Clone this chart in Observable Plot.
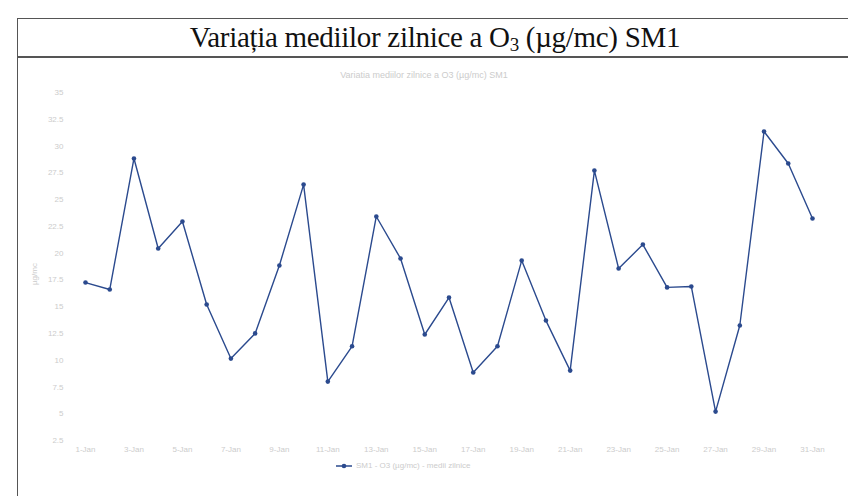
<!DOCTYPE html>
<html>
<head>
<meta charset="utf-8">
<script src="https://cdn.jsdelivr.net/npm/d3@7"></script>
<script src="https://cdn.jsdelivr.net/npm/@observablehq/plot@0.6"></script>
<style>
  html, body { margin: 0; padding: 0; background: #fff; }
  #wrap { position: relative; width: 848px; height: 496px; overflow: hidden; }
  #frame { position: absolute; left: 17px; top: 18px; width: 840px; height: 490px;
           border-left: 1.5px solid #555; border-top: 1.5px solid #555; box-sizing: border-box; }
  #title { position: absolute; left: 17px; top: 18px; width: 836px; height: 40px;
           border-bottom: 2px solid #555; box-sizing: border-box;
           font-family: "Liberation Serif", "DejaVu Serif", serif; font-size: 29px; color: #111;
           text-align: center; line-height: 38px; letter-spacing: -0.3px; }
  #title sub { font-size: 19px; vertical-align: -4px; line-height: 0; }
  #subtitle { position: absolute; left: 0; width: 848px; top: 70px; text-align: center;
              font-family: "Liberation Sans", Arial, sans-serif; font-size: 9px; color: #ccc; }
  #chart { position: absolute; left: 0; top: 58px; }
  #ylab { position: absolute; left: 30px; top: 285px; transform: rotate(-90deg); transform-origin: left top;
          font-family: "Liberation Sans", Arial, sans-serif; font-size: 8px; color: #ccc; }
  #legend { position: absolute; left: 336px; top: 461px; font-family: "Liberation Sans", Arial, sans-serif;
            font-size: 8px; color: #ccc; display: flex; align-items: center; gap: 4px; }
</style>
</head>
<body>
<div id="wrap">
  <div id="frame"></div>
  <div id="title">Variația mediilor zilnice a O<sub>3</sub> (µg/mc) SM1</div>
  <div id="subtitle">Variatia mediilor zilnice a O3 (µg/mc) SM1</div>
  <div id="chart"></div>
  <div id="ylab">µg/mc</div>
  <div id="legend"><svg width="16" height="8"><line x1="0" y1="4" x2="16" y2="4" stroke="#2b4a8e" stroke-width="1.5"/><circle cx="8" cy="4" r="2.3" fill="#2b4a8e"/></svg><span>SM1 - O3 (µg/mc) - medii zilnice</span></div>
</div>
<script>
const days = d3.range(1, 32).map(d => d + "-Jan");
const values = [17.25, 16.6, 28.84, 20.43, 22.95, 15.2, 10.15, 12.5, 18.84, 26.4,
                8.0, 11.3, 23.42, 19.5, 12.4, 15.85, 8.85, 11.3, 19.3, 13.7,
                9.03, 27.71, 18.56, 20.8, 16.8, 16.88, 5.2, 13.24, 31.36, 28.37, 23.23];
const yTicks = [2.5, 5, 7.5, 10, 12.5, 15, 17.5, 20, 22.5, 25, 27.5, 30, 32.5, 35];
const xTicks = days.filter((d, i) => i % 2 === 0);

const data = days.map((d, i) => ({day: d, value: values[i]}));

const chart = Plot.plot({
  width: 848,
  height: 400,
  marginLeft: 85,
  marginRight: 36,
  marginTop: 34,
  marginBottom: 18,
  style: {fontFamily: "Liberation Sans, Arial, sans-serif", fontSize: "8px", color: "#ccc", background: "transparent"},
  x: {type: "point", domain: days, padding: 0, round: false, ticks: xTicks, tickSize: 0, tickPadding: 6, label: null},
  y: {domain: [2.5, 35], ticks: yTicks, tickSize: 0, tickPadding: 22, label: null,
      tickFormat: d => String(d)},
  marks: [
    Plot.line(data, {x: "day", y: "value", stroke: "#2b4a8e", strokeWidth: 1.4}),
    Plot.dot(data, {x: "day", y: "value", fill: "#2b4a8e", r: 2.3})
  ]
});
document.getElementById("chart").appendChild(chart);
</script>
</body>
</html>
